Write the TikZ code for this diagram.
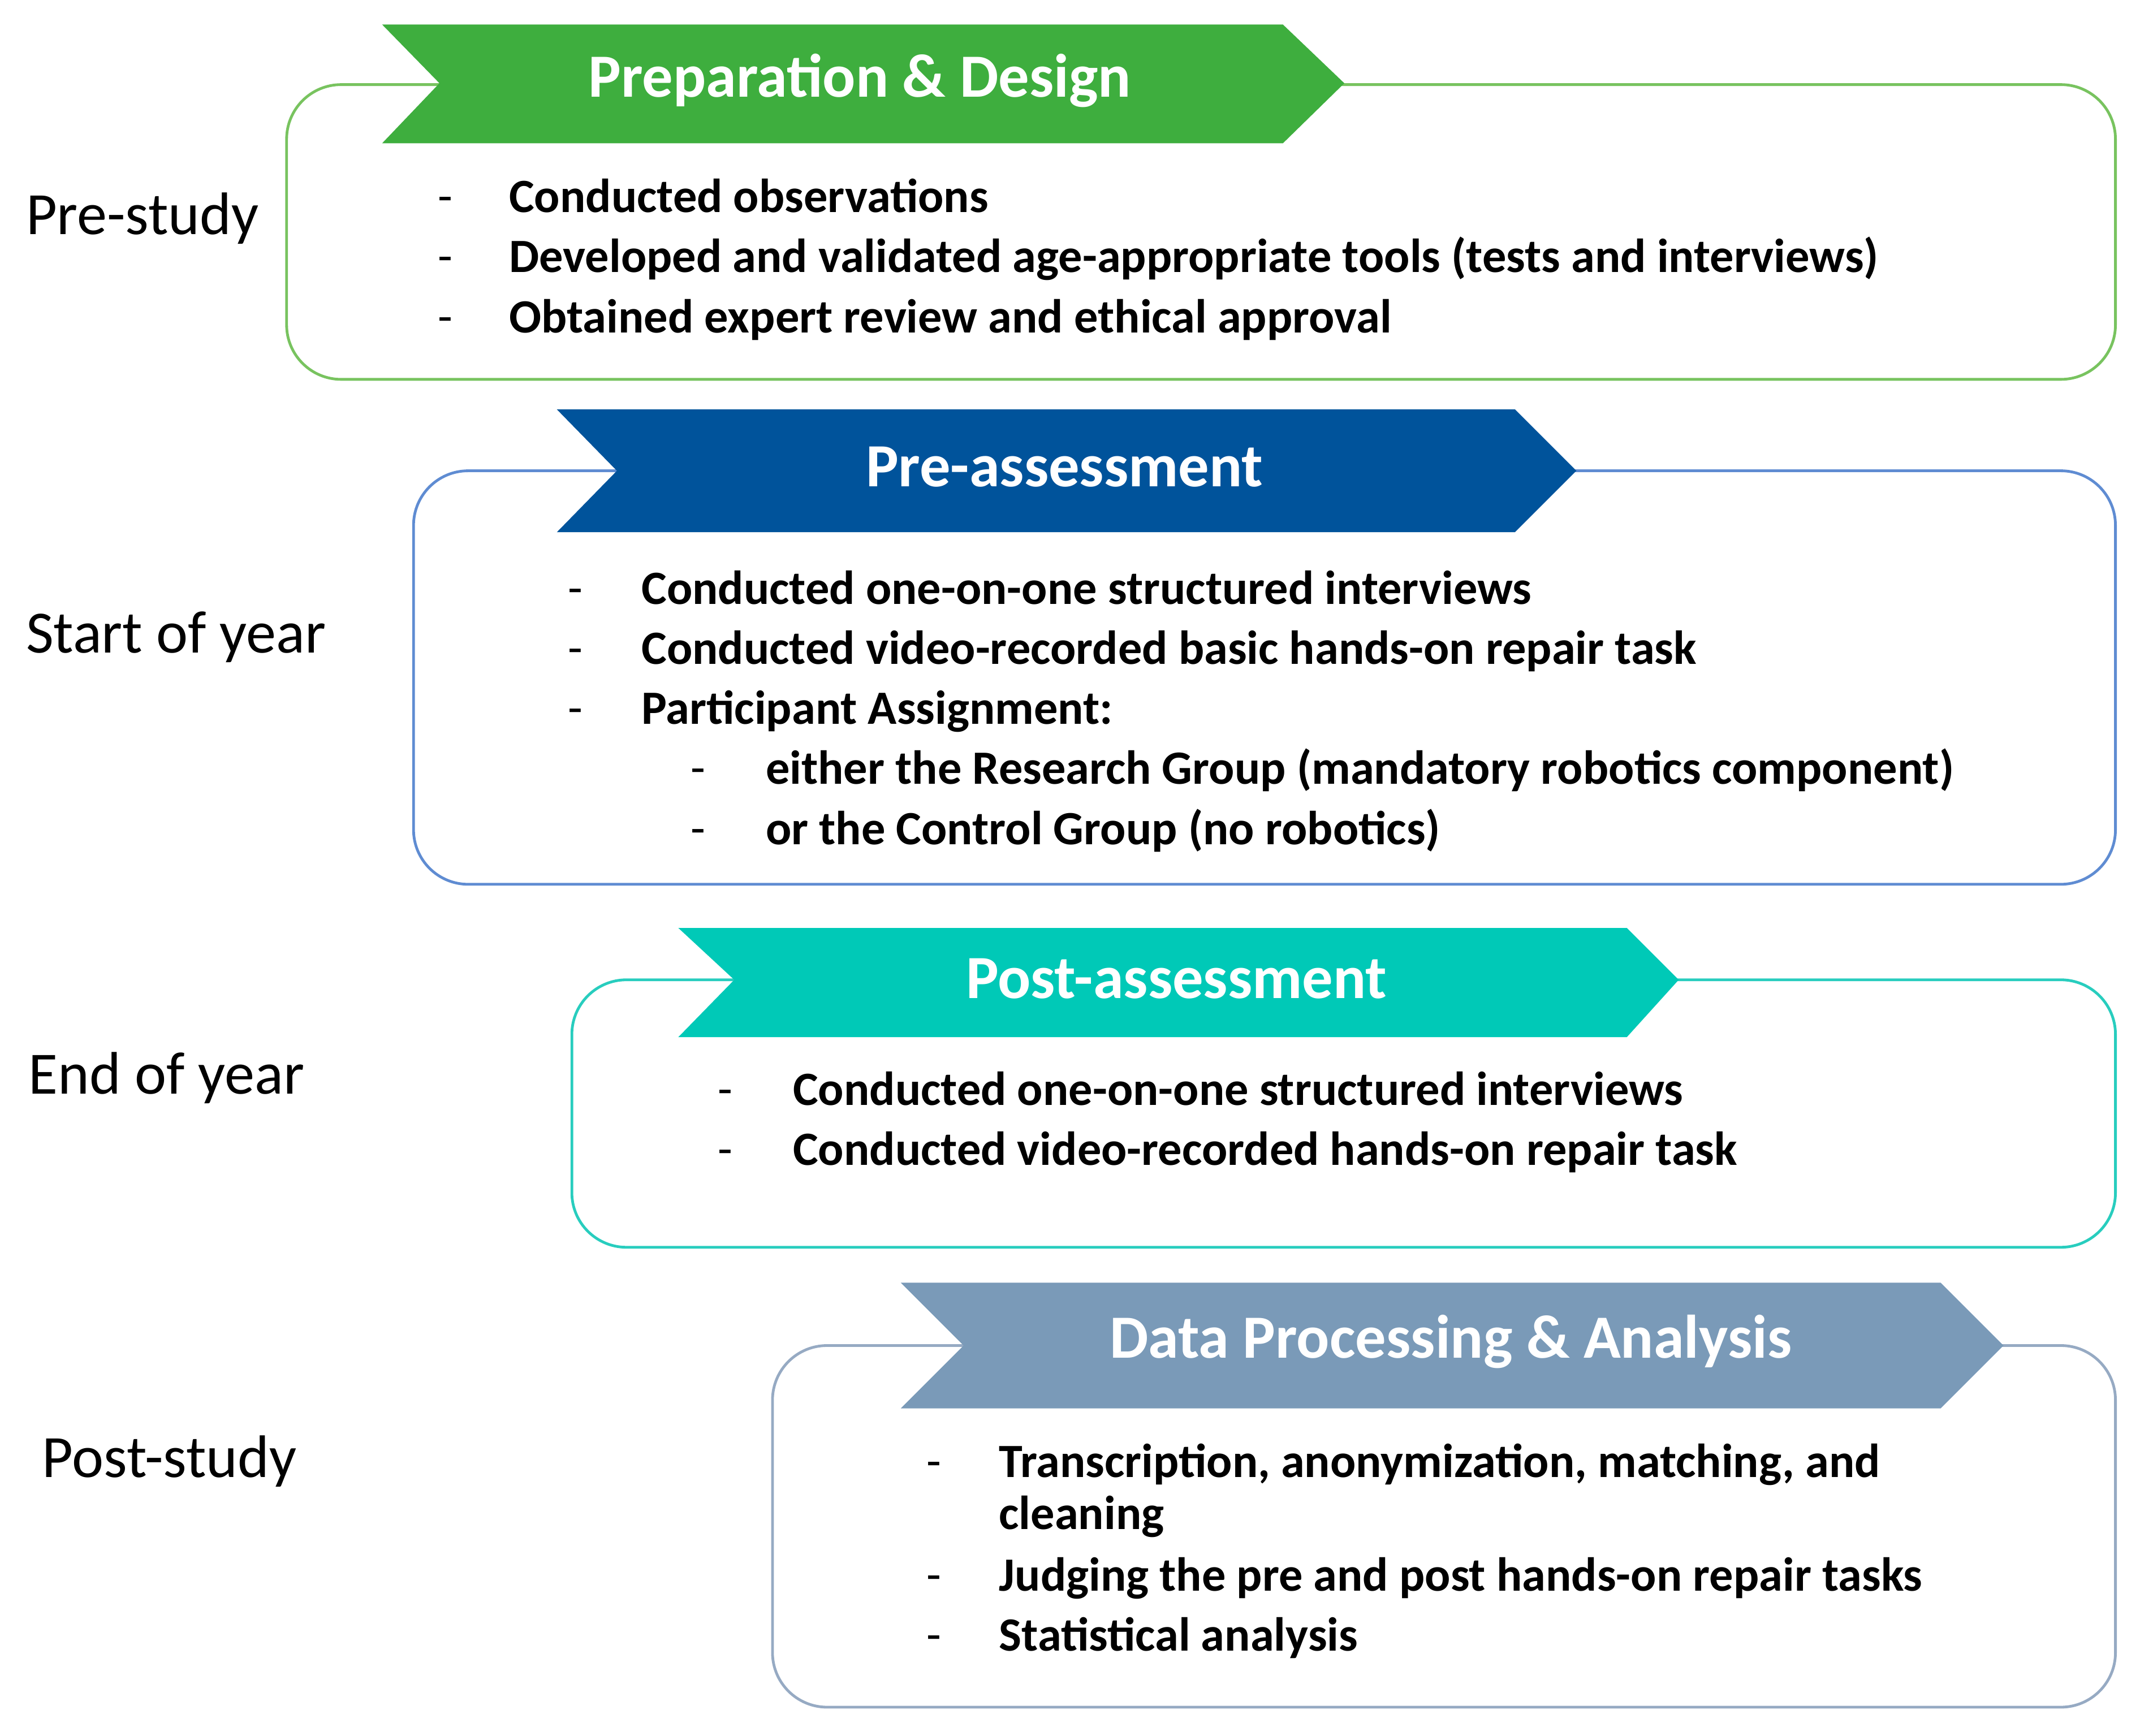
\documentclass[tikz,border=0pt]{standalone}
\usepackage{fontspec}
\setmainfont{Carlito}
\definecolor{prepgreen}{RGB}{62,174,62}
\definecolor{prepline}{RGB}{120,195,95}
\definecolor{preblue}{RGB}{0,83,155}
\definecolor{preline}{RGB}{95,140,210}
\definecolor{postteal}{RGB}{0,201,183}
\definecolor{postline}{RGB}{40,205,190}
\definecolor{datagray}{RGB}{122,154,184}
\definecolor{dataline}{RGB}{150,170,195}
\tikzset{
  phasebox/.style={line width=1pt, rounded corners=20pt},
  banner/.style={draw=none},
  bannertext/.style={text=white, font=\fontsize{22.5}{27}\selectfont\bfseries},
  stage/.style={anchor=west, font=\fontsize{22}{26}\selectfont},
  item/.style={anchor=west, text height=1.5ex, text depth=.3ex, font=\fontsize{17.5}{21}\selectfont\bfseries},
  bullet/.style={anchor=west, text height=1.5ex, text depth=.3ex, font=\fontsize{17.5}{21}\selectfont}
}
\begin{document}
\begin{tikzpicture}[x=0.5pt,y=-0.5pt]
\useasboundingbox (0,0) rectangle (1568,1272);
% Pre-study
\draw[phasebox, draw=prepline] (210,62) rectangle (1550,278);
\fill[banner, prepgreen] (280,18) -- (940,18) -- (985,61) -- (940,105) -- (280,105) -- (322,61) -- cycle;
\node[bannertext] (prep) at (630,59) {Preparation \& Design};
\node[stage] (prestudy) at (12,160) {Pre-study};
\node[bullet] (d11) at (314,150) {-};
\node[item] (i11) at (366,150) {Conducted observations};
\node[bullet] (d12) at (314,194) {-};
\node[item] (i12) at (366,194) {Developed and validated age-appropriate tools (tests and interviews)};
\node[bullet] (d13) at (314,238) {-};
\node[item] (i13) at (366,238) {Obtained expert review and ethical approval};
% Start of year
\draw[phasebox, draw=preline] (303,345) rectangle (1550,648);
\fill[banner, preblue] (408,300) -- (1110,300) -- (1155,345) -- (1110,390) -- (408,390) -- (452,345) -- cycle;
\node[bannertext] (preass) at (780,342) {Pre-assessment};
\node[stage] (startyear) at (12,467) {Start of year};
\node[bullet] (d21) at (409,437) {-};
\node[item] (i21) at (463,437) {Conducted one-on-one structured interviews};
\node[bullet] (d22) at (409,481) {-};
\node[item] (i22) at (463,481) {Conducted video-recorded basic hands-on repair task};
\node[bullet] (d23) at (409,525) {-};
\node[item] (i23) at (463,525) {Participant Assignment:};
\node[bullet] (d24) at (499,569) {-};
\node[item] (i24) at (554,569) {either the Research Group (mandatory robotics component)};
\node[bullet] (d25) at (499,613) {-};
\node[item] (i25) at (554,613) {or the Control Group (no robotics)};
% End of year
\draw[phasebox, draw=postline] (419,718) rectangle (1550,914);
\fill[banner, postteal] (497,680) -- (1192,680) -- (1230,718) -- (1192,760) -- (497,760) -- (538,718) -- cycle;
\node[bannertext] (postass) at (862,717) {Post-assessment};
\node[stage] (endyear) at (14,790) {End of year};
\node[bullet] (d31) at (519,804) {-};
\node[item] (i31) at (574,804) {Conducted one-on-one structured interviews};
\node[bullet] (d32) at (519,848) {-};
\node[item] (i32) at (574,848) {Conducted video-recorded hands-on repair task};
% Post-study
\draw[phasebox, draw=dataline] (566,986) rectangle (1550,1251);
\fill[banner, datagray] (660,940) -- (1422,940) -- (1468,986) -- (1422,1032) -- (660,1032) -- (706,986) -- cycle;
\node[bannertext] (data) at (1063,983) {Data Processing \& Analysis};
\node[stage] (poststudy) at (24,1071) {Post-study};
\node[bullet] (d41) at (672,1077) {-};
\node[item] (i41) at (725,1077) {Transcription, anonymization, matching, and};
\node[item] (i41b) at (725,1115) {cleaning};
\node[bullet] (d42) at (672,1160) {-};
\node[item] (i42) at (725,1160) {Judging the pre and post hands-on repair tasks};
\node[bullet] (d43) at (672,1204) {-};
\node[item] (i43) at (725,1204) {Statistical analysis};
\end{tikzpicture}
\end{document}
